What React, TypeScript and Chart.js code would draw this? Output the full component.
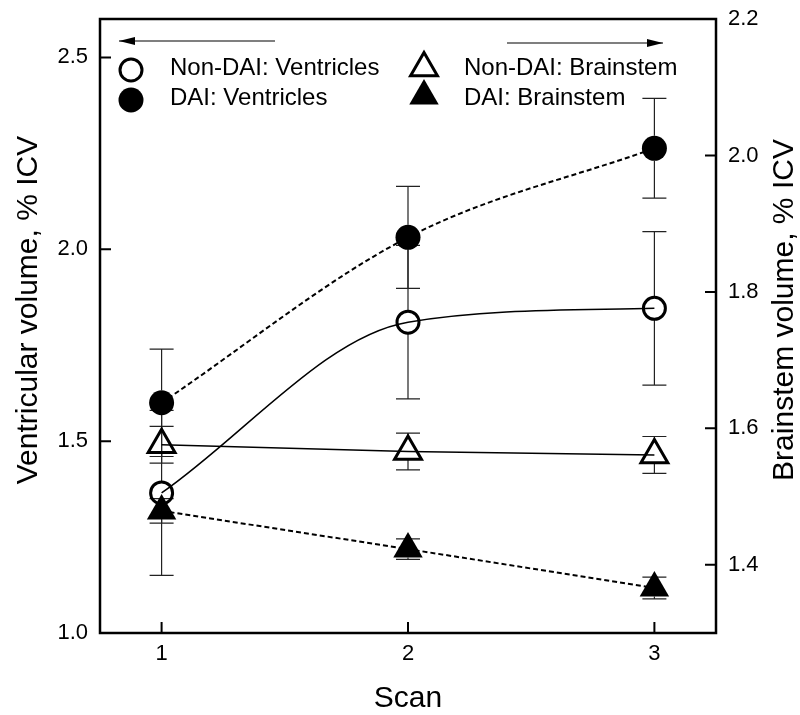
import React, { useEffect, useRef } from 'react';
import { Chart, registerables } from 'chart.js';
Chart.register(...registerables);

const scans = [1, 2, 3];
const xTicks = [1, 2, 3];
const leftTicks = [1.0, 1.5, 2.0, 2.5];
const rightTicks = [1.4, 1.6, 1.8, 2.0, 2.2];

const nonDaiVentricles = [1.365, 1.81, 1.846];
const nonDaiVentriclesSE = [0.215, 0.2, 0.2];
const daiVentricles = [1.6, 2.031, 2.263];
const daiVentriclesSE = [0.14, 0.133, 0.13];
const nonDaiBrainstem = [1.576, 1.566, 1.561];
const nonDaiBrainstemSE = [0.027, 0.027, 0.027];
const daiBrainstem = [1.479, 1.423, 1.366];
const daiBrainstemSE = [0.018, 0.015, 0.016];

const seriesLabels = ['Non-DAI: Ventricles', 'DAI: Ventricles', 'Non-DAI: Brainstem', 'DAI: Brainstem'];
const xTitle = 'Scan';
const leftTitle = 'Ventricular volume, % ICV';
const rightTitle = 'Brainstem volume, % ICV';

const FONT = '"Liberation Sans", Arial, Helvetica, sans-serif';

function toPts(vals: number[]) {
  return scans.map((s, i) => ({ x: s, y: vals[i] }));
}

function drawMarker(ctx: CanvasRenderingContext2D, shape: string, filled: boolean, x: number, y: number, r: number, lw: number) {
  ctx.save();
  ctx.beginPath();
  if (shape === 'circle') {
    ctx.arc(x, y, r, 0, Math.PI * 2);
  } else {
    ctx.moveTo(x, y - r);
    ctx.lineTo(x + Math.sin((2 * Math.PI) / 3) * r, y - Math.cos((2 * Math.PI) / 3) * r);
    ctx.lineTo(x + Math.sin((4 * Math.PI) / 3) * r, y - Math.cos((4 * Math.PI) / 3) * r);
    ctx.closePath();
  }
  if (filled) {
    ctx.fillStyle = '#000';
    ctx.fill();
  } else {
    ctx.strokeStyle = '#000';
    ctx.lineWidth = lw;
    ctx.stroke();
  }
  ctx.restore();
}

const zeroPad = (s: any) => {
  s.paddingTop = 0;
  s.paddingBottom = 0;
  s.paddingLeft = 0;
  s.paddingRight = 0;
};

const customPlugin = {
  id: 'custom',
  beforeDatasetsDraw(chart: any) {
    const ctx = chart.ctx;
    const xs = chart.scales.x;
    ctx.save();
    ctx.strokeStyle = '#222';
    ctx.lineWidth = 1.2;
    chart.data.datasets.forEach((ds: any) => {
      const ys = chart.scales[ds.yAxisID];
      ds.data.forEach((pt: any, j: number) => {
        const x = xs.getPixelForValue(pt.x);
        const y = ys.getPixelForValue(pt.y);
        const top = ys.getPixelForValue(pt.y + ds.se[j]);
        const bot = ys.getPixelForValue(pt.y - ds.se[j]);
        const r = ds.pointRadius;
        const isTri = ds.pointStyle === 'triangle';
        const upEdge = y - r;
        const downEdge = isTri ? y + r / 2 : y + r;
        ctx.beginPath();
        if (top < upEdge) {
          ctx.moveTo(x, top);
          ctx.lineTo(x, upEdge);
        }
        if (bot > downEdge) {
          ctx.moveTo(x, downEdge);
          ctx.lineTo(x, bot);
        }
        ctx.moveTo(x - 12, top);
        ctx.lineTo(x + 12, top);
        ctx.moveTo(x - 12, bot);
        ctx.lineTo(x + 12, bot);
        ctx.stroke();
      });
    });
    ctx.restore();
  },
  afterDraw(chart: any) {
    const ctx = chart.ctx;
    const a = chart.chartArea;
    const xs = chart.scales.x;
    const yl = chart.scales.y;
    const yr = chart.scales.y2;
    ctx.save();
    // frame
    ctx.strokeStyle = '#000';
    ctx.lineWidth = 2.5;
    ctx.strokeRect(a.left, a.top, a.right - a.left, a.bottom - a.top);
    // inward ticks
    ctx.lineWidth = 2;
    ctx.beginPath();
    xTicks.forEach((v) => {
      const p = xs.getPixelForValue(v);
      ctx.moveTo(p, a.bottom);
      ctx.lineTo(p, a.bottom - 11);
    });
    leftTicks.forEach((v) => {
      const p = yl.getPixelForValue(v);
      ctx.moveTo(a.left, p);
      ctx.lineTo(a.left + 11, p);
    });
    rightTicks.forEach((v) => {
      const p = yr.getPixelForValue(v);
      ctx.moveTo(a.right, p);
      ctx.lineTo(a.right - 11, p);
    });
    ctx.stroke();

    // arrows
    const arrow = (x1: number, x2: number, y: number) => {
      ctx.beginPath();
      ctx.lineWidth = 1.2;
      ctx.moveTo(x1, y);
      ctx.lineTo(x2, y);
      ctx.stroke();
      const dir = x2 > x1 ? 1 : -1;
      ctx.beginPath();
      ctx.moveTo(x2, y);
      ctx.lineTo(x2 - dir * 16, y - 4);
      ctx.lineTo(x2 - dir * 16, y + 4);
      ctx.closePath();
      ctx.fillStyle = '#000';
      ctx.fill();
    };
    arrow(275, 119, 41);
    arrow(507, 663, 43);

    // legend
    ctx.font = `24px ${FONT}`;
    ctx.fillStyle = '#000';
    ctx.textBaseline = 'middle';
    ctx.textAlign = 'left';
    const items = [
      { shape: 'circle', filled: false, x: 131, y: 70, tx: 170, ty: 68, label: seriesLabels[0] },
      { shape: 'circle', filled: true, x: 131, y: 100, tx: 170, ty: 98, label: seriesLabels[1] },
      { shape: 'triangle', filled: false, x: 424, y: 68, tx: 464, ty: 68, label: seriesLabels[2] },
      { shape: 'triangle', filled: true, x: 424, y: 96, tx: 464, ty: 98, label: seriesLabels[3] },
    ];
    items.forEach((it) => {
      if (it.shape === 'circle') drawMarker(ctx, 'circle', it.filled, it.x, it.y, it.filled ? 12.5 : 11, 3);
      else drawMarker(ctx, 'triangle', it.filled, it.x, it.y, it.filled ? 17 : 15.5, 3);
      ctx.fillStyle = '#000';
      ctx.fillText(it.label, it.tx, it.ty);
    });

    // titles
    ctx.font = `30px ${FONT}`;
    ctx.textAlign = 'center';
    ctx.textBaseline = 'alphabetic';
    ctx.fillText(xTitle, (a.left + a.right) / 2, 707);
    ctx.save();
    ctx.translate(37, 310);
    ctx.rotate(-Math.PI / 2);
    ctx.fillText(leftTitle, 0, 0);
    ctx.restore();
    ctx.save();
    ctx.translate(793, 310);
    ctx.rotate(-Math.PI / 2);
    ctx.fillText(rightTitle, 0, 0);
    ctx.restore();
    ctx.restore();
  },
};

export default function App() {
  const ref = useRef<HTMLCanvasElement | null>(null);
  useEffect(() => {
    if (!ref.current) return;
    const tickFont = { family: FONT, size: 22 };
    const chart = new Chart(ref.current, {
      type: 'line',
      data: {
        datasets: [
          {
            label: seriesLabels[0],
            data: toPts(nonDaiVentricles),
            se: nonDaiVentriclesSE,
            yAxisID: 'y',
            borderColor: '#000',
            borderWidth: 1.5,
            pointStyle: 'circle',
            pointRadius: 11,
            pointBorderWidth: 3,
            pointBackgroundColor: 'rgba(0,0,0,0)',
            pointBorderColor: '#000',
            cubicInterpolationMode: 'monotone',
          } as any,
          {
            label: seriesLabels[1],
            data: toPts(daiVentricles),
            se: daiVentriclesSE,
            yAxisID: 'y',
            borderColor: '#000',
            borderWidth: 2,
            borderDash: [5, 3],
            pointStyle: 'circle',
            pointRadius: 12.5,
            pointBorderWidth: 0,
            pointBackgroundColor: '#000',
            pointBorderColor: '#000',
            cubicInterpolationMode: 'monotone',
          } as any,
          {
            label: seriesLabels[2],
            data: toPts(nonDaiBrainstem),
            se: nonDaiBrainstemSE,
            yAxisID: 'y2',
            borderColor: '#000',
            borderWidth: 1.5,
            pointStyle: 'triangle',
            pointRadius: 15.5,
            pointBorderWidth: 3,
            pointBackgroundColor: 'rgba(0,0,0,0)',
            pointBorderColor: '#000',
            tension: 0,
          } as any,
          {
            label: seriesLabels[3],
            data: toPts(daiBrainstem),
            se: daiBrainstemSE,
            yAxisID: 'y2',
            borderColor: '#000',
            borderWidth: 2,
            borderDash: [5, 3],
            pointStyle: 'triangle',
            pointRadius: 17,
            pointBorderWidth: 0,
            pointBackgroundColor: '#000',
            pointBorderColor: '#000',
            tension: 0,
          } as any,
        ],
      },
      options: {
        responsive: false,
        animation: false,
        layout: { padding: { top: 19, left: 0, right: 0, bottom: 0 } },
        plugins: { legend: { display: false }, tooltip: { enabled: false } },
        scales: {
          x: {
            type: 'linear',
            position: 'bottom',
            min: 0.75,
            max: 3.25,
            afterBuildTicks: (s: any) => {
              s.ticks = xTicks.map((v) => ({ value: v }));
            },
            afterFit: (s: any) => {
              s.height = 82;
              zeroPad(s);
            },
            grid: { display: false, drawTicks: false },
            border: { display: false },
            ticks: { font: tickFont, color: '#000', padding: 8, maxRotation: 0, callback: (v: any) => String(v) },
          },
          y: {
            type: 'linear',
            position: 'left',
            min: 1.0,
            max: 2.6,
            afterBuildTicks: (s: any) => {
              s.ticks = leftTicks.map((v) => ({ value: v }));
            },
            afterFit: (s: any) => {
              s.width = 100;
              zeroPad(s);
            },
            grid: { display: false, drawTicks: false },
            border: { display: false },
            ticks: { font: tickFont, color: '#000', padding: 12, callback: (v: any) => Number(v).toFixed(1) },
          },
          y2: {
            type: 'linear',
            position: 'right',
            min: 1.3,
            max: 2.2,
            afterBuildTicks: (s: any) => {
              s.ticks = rightTicks.map((v) => ({ value: v }));
            },
            afterFit: (s: any) => {
              s.width = 84;
              zeroPad(s);
            },
            grid: { display: false, drawTicks: false },
            border: { display: false },
            ticks: { font: tickFont, color: '#000', padding: 12, callback: (v: any) => Number(v).toFixed(1) },
          },
        },
      } as any,
      plugins: [customPlugin],
    });
    return () => chart.destroy();
  }, []);
  return (
    <div style={{ position: 'absolute', left: 0, top: 0, width: 800, height: 715, background: '#fff' }}>
      <canvas ref={ref} width={800} height={715} style={{ display: 'block' }} />
    </div>
  );
}
